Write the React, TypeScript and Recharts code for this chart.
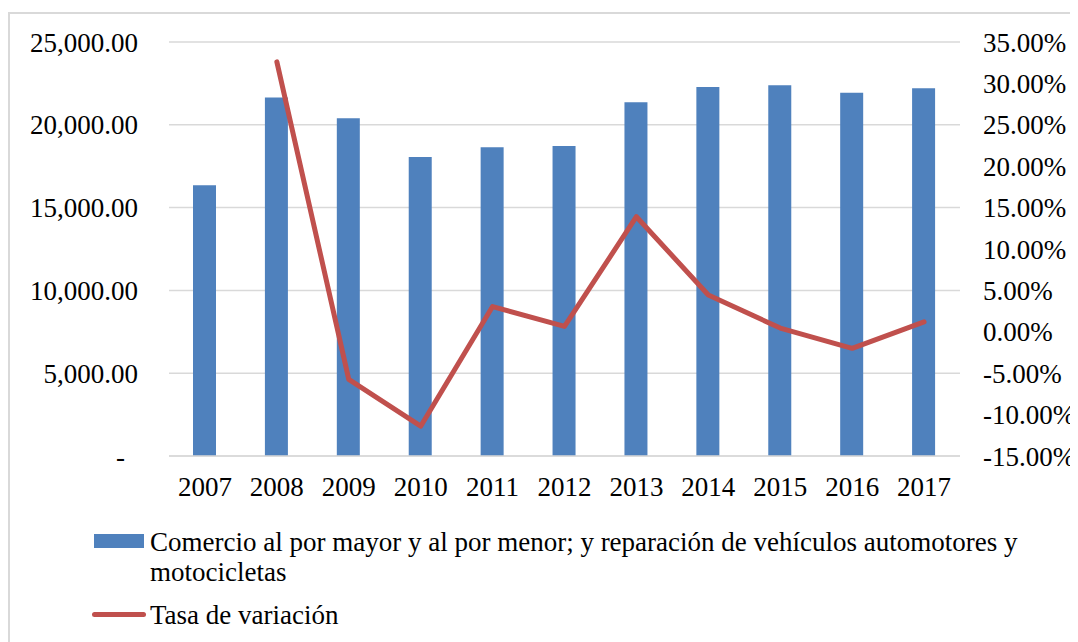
import React from 'react';
import { ComposedChart, Bar, Line, XAxis, YAxis, CartesianGrid, Legend } from 'recharts';

const years = ['2007', '2008', '2009', '2010', '2011', '2012', '2013', '2014', '2015', '2016', '2017'];
const comercio = [16350, 21650, 20400, 18050, 18650, 18720, 21360, 22280, 22390, 21940, 22200];
const tasa = [null, 32.6, -5.75, -11.4, 3.05, 0.65, 13.9, 4.45, 0.45, -2.0, 1.2];
const leftTicks = [0, 5000, 10000, 15000, 20000, 25000];
const rightTicks = [-15, -10, -5, 0, 5, 10, 15, 20, 25, 30, 35];

const barName = 'Comercio al por mayor y al por menor; y reparación de vehículos automotores y motocicletas';
const lineName = 'Tasa de variación';

const data = years.map((year, i) => ({ year, comercio: comercio[i], tasa: tasa[i] }));

const FONT = '"Liberation Serif", "Times New Roman", serif';
const FS = 27;
const BLUE = '#4f81bd';
const RED = '#c0504d';
const GRID = '#d9d9d9';

const fmtMoney = (v: number) =>
  v.toLocaleString('en-US', { minimumFractionDigits: 2, maximumFractionDigits: 2 });

// Excel accounting format shows zero as a dash, set a bit left of the numbers
const LeftTick = (props: any) => {
  const { x, y, payload } = props;
  const zero = payload.value === 0;
  return (
    <text x={zero ? x - 13 : x} y={y} dy="0.355em" textAnchor="end" fill="#000" fontSize={FS} fontFamily={FONT}>
      {zero ? '-' : fmtMoney(payload.value)}
    </text>
  );
};

const LegendBox = () => (
  <div style={{ height: 136, fontFamily: FONT, fontSize: FS, lineHeight: '30px', color: '#000', paddingTop: 21, boxSizing: 'border-box' }}>
    <div style={{ display: 'flex', alignItems: 'flex-start', marginLeft: 86 }}>
      <div style={{ width: 50, height: 14, marginTop: 7, background: BLUE, flexShrink: 0 }} />
      <div style={{ marginLeft: 6, whiteSpace: 'nowrap' }}>
        Comercio al por mayor y al por menor; y reparación de vehículos automotores y
        <br />
        motocicletas
      </div>
    </div>
    <div style={{ display: 'flex', alignItems: 'flex-start', marginLeft: 84, marginTop: 13 }}>
      <div style={{ width: 54, height: 5, marginTop: 12, background: RED, borderRadius: 3, flexShrink: 0 }} />
      <div style={{ marginLeft: 4, whiteSpace: 'nowrap' }}>{lineName}</div>
    </div>
  </div>
);

export default function App() {
  return (
    <div style={{ position: 'relative', width: 1070, height: 634 }}>
      <div
        style={{
          position: 'absolute',
          top: 4,
          left: 0,
          right: 0,
          bottom: 0,
          borderTop: `2px solid ${GRID}`,
          borderLeft: `2px solid ${GRID}`,
        }}
      />
      <div style={{ position: 'absolute', top: 0, left: 0 }}>
        <ComposedChart width={1070} height={634} data={data} margin={{ top: 34, right: 0, bottom: 0, left: 0 }}>
          <CartesianGrid yAxisId="left" vertical={false} stroke={GRID} strokeWidth={1.5} />
          <XAxis
            dataKey="year"
            axisLine={{ stroke: GRID, strokeWidth: 1.5 }}
            tickLine={false}
            tickSize={0}
            tickMargin={21}
            height={50}
            interval={0}
            tick={{ fill: '#000', fontSize: FS, fontFamily: FONT }}
          />
          <YAxis
            yAxisId="left"
            orientation="left"
            width={161}
            domain={[0, 25000]}
            ticks={leftTicks}
            axisLine={false}
            tickLine={false}
            tickSize={0}
            tickMargin={31}
            tick={<LeftTick />}
          />
          <YAxis
            yAxisId="right"
            orientation="right"
            width={118}
            domain={[-15, 35]}
            ticks={rightTicks}
            axisLine={false}
            tickLine={false}
            tickSize={0}
            tickMargin={23}
            tickFormatter={(v: number) => `${v.toFixed(2)}%`}
            tick={{ fill: '#000', fontSize: FS, fontFamily: FONT, textAnchor: 'start' }}
          />
          <Legend verticalAlign="bottom" align="left" content={<LegendBox />} />
          <Bar yAxisId="left" dataKey="comercio" name={barName} fill={BLUE} barSize={23} isAnimationActive={false} />
          <Line
            yAxisId="right"
            dataKey="tasa"
            name={lineName}
            type="linear"
            stroke={RED}
            strokeWidth={5}
            strokeLinecap="round"
            strokeLinejoin="round"
            dot={false}
            activeDot={false}
            isAnimationActive={false}
          />
        </ComposedChart>
      </div>
    </div>
  );
}
